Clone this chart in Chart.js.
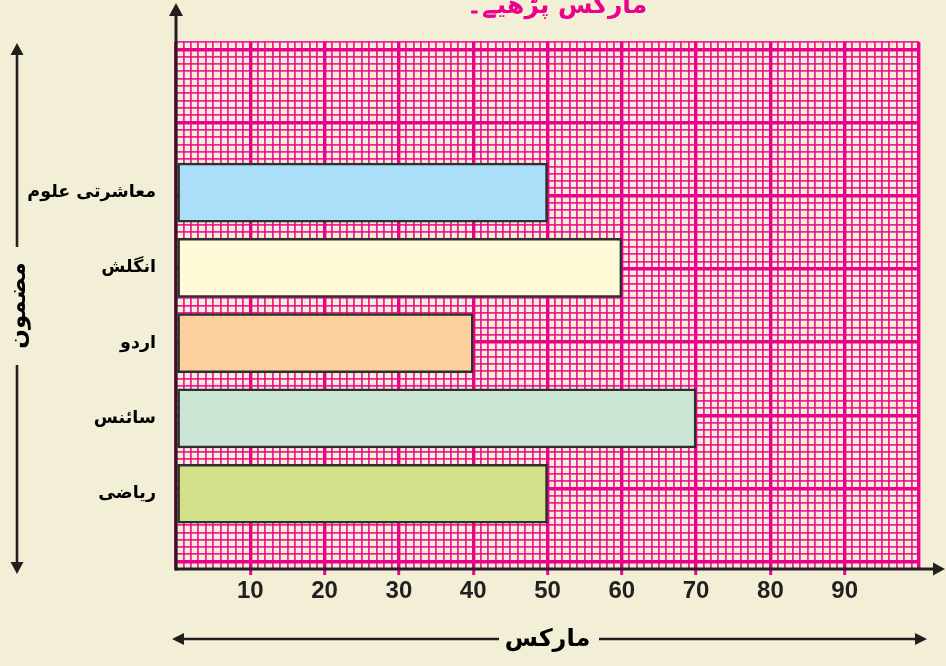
<!DOCTYPE html>
<html>
<head>
<meta charset="utf-8">
<script src="https://cdn.jsdelivr.net/npm/chart.js@4/dist/chart.umd.min.js"></script>
<style>
  html, body { margin: 0; padding: 0; background: #f3efd6; }
  #wrap { width: 946px; height: 666px; }
</style>
</head>
<body>
<div id="wrap"><canvas id="c" width="946" height="666"></canvas></div>
<script>
// Subjects (top to bottom) and the marks obtained in each
const subjects = ['معاشرتی علوم', 'انگلش', 'اردو', 'سائنس', 'ریاضی'];
const marks = [50, 60, 40, 70, 50];
const barColors = ['#abdff9', '#fffad8', '#fdd09e', '#cce6d5', '#d2e08a'];
const markTicks = [10, 20, 30, 40, 50, 60, 70, 80, 90];

const chartTitle = 'مارکس پڑھیے۔';
const xTitle = 'مارکس';
const yTitle = 'مضمون';

const INK = '#231f20';
const PINK = '#ec008c';

// The subject rows sit on a graph-paper sheet: two empty slots above, one below
const rowLabels = ['', ''].concat(subjects, ['']);
const rowValues = [null, null].concat(marks, [null]);
const rowColors = ['rgba(0,0,0,0)', 'rgba(0,0,0,0)'].concat(barColors, ['rgba(0,0,0,0)']);

const isMajor = (c) => !!(c && c.tick && c.tick.value % 10 === 0);
const gridColor = (c) => isMajor(c) ? PINK : 'rgba(236,0,140,0.85)';
const gridWidth = (c) => isMajor(c) ? 3.4 : 1.8;

// Axis lines, arrows and the heading
const decor = {
  id: 'decor',
  afterDraw(chart) {
    const { ctx, chartArea: a } = chart;
    ctx.save();
    ctx.strokeStyle = INK;
    ctx.fillStyle = INK;
    ctx.lineCap = 'butt';

    const seg = (x1, y1, x2, y2, w) => {
      ctx.lineWidth = w;
      ctx.beginPath(); ctx.moveTo(x1, y1); ctx.lineTo(x2, y2); ctx.stroke();
    };
    const head = (tx, ty, dir, len, half) => {
      ctx.beginPath();
      ctx.moveTo(tx, ty);
      if (dir === 'up') { ctx.lineTo(tx - half, ty + len); ctx.lineTo(tx + half, ty + len); }
      if (dir === 'down') { ctx.lineTo(tx - half, ty - len); ctx.lineTo(tx + half, ty - len); }
      if (dir === 'left') { ctx.lineTo(tx + len, ty - half); ctx.lineTo(tx + len, ty + half); }
      if (dir === 'right') { ctx.lineTo(tx - len, ty - half); ctx.lineTo(tx - len, ty + half); }
      ctx.closePath(); ctx.fill();
    };

    // main axes
    seg(a.left, a.bottom + 1.5, a.left, 15, 3);
    head(a.left, 3, 'up', 13, 7);
    seg(a.left - 1.5, a.bottom, 934, a.bottom, 3);
    head(945, a.bottom, 'right', 12, 6.5);

    // arrows beside the vertical axis title
    seg(17, 247, 17, 54, 2.6);
    head(17, 43, 'up', 12, 6.5);
    seg(17, 365, 17, 562, 2.6);
    head(17, 574, 'down', 12, 6.5);

    // arrows beside the horizontal axis title
    seg(499, 639, 183, 639, 2.6);
    head(172, 639, 'left', 12, 6);
    seg(599, 639, 916, 639, 2.6);
    head(927, 639, 'right', 12, 6);

    // heading
    ctx.fillStyle = PINK;
    ctx.font = 'bold 25px "DejaVu Sans"';
    ctx.textAlign = 'center';
    ctx.textBaseline = 'alphabetic';
    ctx.fillText(chartTitle, 557, 13);
    ctx.restore();
  }
};

new Chart(document.getElementById('c'), {
  type: 'bar',
  data: {
    labels: rowLabels,
    datasets: [{
      data: rowValues,
      backgroundColor: rowColors,
      borderColor: '#2e2e2e',
      borderWidth: 2.5,
      borderSkipped: false,
      barThickness: 59
    }]
  },
  plugins: [decor],
  options: {
    indexAxis: 'y',
    responsive: false,
    animation: false,
    devicePixelRatio: 1,
    layout: { padding: { top: 42, right: 27, left: 0, bottom: 0 } },
    plugins: {
      legend: { display: false },
      tooltip: { enabled: false }
    },
    scales: {
      x: {
        type: 'linear',
        position: 'bottom',
        min: 0,
        max: 100,
        afterFit: (s) => { s.height = 97; },
        border: { display: false },
        grid: {
          color: gridColor,
          lineWidth: gridWidth,
          drawTicks: true,
          tickLength: 6,
          tickWidth: 3,
          tickColor: (c) => (c && c.tick && markTicks.includes(c.tick.value)) ? PINK : 'rgba(0,0,0,0)'
        },
        ticks: {
          stepSize: 1,
          autoSkip: false,
          maxRotation: 0,
          padding: 2,
          color: INK,
          font: { family: '"Liberation Sans", Arial, sans-serif', size: 24, weight: 'bold' },
          callback: (v) => markTicks.includes(v) ? String(v) : ''
        },
        title: {
          display: true,
          text: xTitle,
          color: '#000',
          font: { family: '"DejaVu Sans"', size: 24, weight: 'bold' },
          padding: { top: 0, bottom: 12 }
        }
      },
      y: {
        type: 'category',
        position: 'left',
        offset: false,
        afterFit: (s) => { s.width = 176; },
        border: { display: false },
        grid: { display: false, drawTicks: false },
        ticks: {
          autoSkip: false,
          padding: 20,
          color: '#000',
          font: { family: '"DejaVu Sans"', size: 17.5, weight: 'bold' }
        },
        title: {
          display: true,
          text: yTitle,
          color: '#000',
          font: { family: '"DejaVu Sans"', size: 23, weight: 'bold' },
          padding: { top: 5, bottom: 0 }
        }
      },
      paper: {
        type: 'linear',
        position: 'right',
        min: 0,
        max: 71,
        reverse: true,
        afterFit: (s) => { s.width = 0; },
        border: { display: false },
        grid: {
          color: gridColor,
          lineWidth: gridWidth,
          drawTicks: false
        },
        ticks: { display: false, stepSize: 1, autoSkip: false }
      }
    }
  }
});
</script>
</body>
</html>
